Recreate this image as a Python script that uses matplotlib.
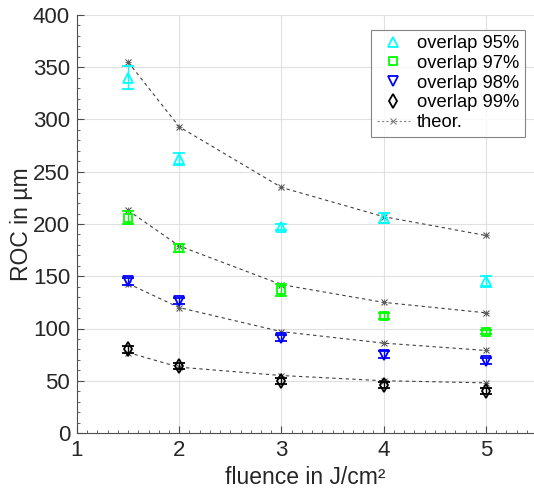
import matplotlib
matplotlib.use("Agg")
import matplotlib.pyplot as plt
from matplotlib.ticker import MultipleLocator
from matplotlib.lines import Line2D

plt.rcParams['font.family'] = ['Liberation Sans', 'DejaVu Sans']

fluence = [1.5, 2, 3, 4, 5]

roc95 = [340, 262, 197, 206, 145]
err95 = [11, 6, 3, 5, 5]
roc97 = [206, 177, 137, 112, 97]
err97 = [6, 4, 6, 3, 2]
roc98 = [145, 126, 91, 75, 69]
err98 = [3, 3, 3, 3, 3]
roc99 = [80, 64, 50, 46, 40]
err99 = [3, 3, 3, 3, 3]

theor95 = [355, 293, 235, 207, 189]
theor97 = [213, 179, 142, 125, 115]
theor98 = [143, 120, 97, 86, 79]
theor99 = [77, 63, 55, 50, 48]

fig = plt.figure(figsize=(5.34, 4.93), dpi=100)
ax = fig.add_axes([77/534, 60/493, 1 - 77/534, (433-15)/493])

series = [
    (roc95, err95, '^', (0, 1, 1), 'overlap 95%'),
    (roc97, err97, 's', (0, 1, 0), 'overlap 97%'),
    (roc98, err98, 'v', (0, 0, 1), 'overlap 98%'),
    (roc99, err99, 'd', (0, 0, 0), 'overlap 99%'),
]
handles = []
for vals, errs, m, c, lab in series:
    ms = 7 if m != 's' else 5.5
    ax.errorbar(fluence, vals, yerr=errs, fmt=m, mfc='none', mec=c, color=c,
                ms=ms, mew=1.3, elinewidth=1.0, capsize=4,
                capthick=1.0, zorder=3)
    handles.append(Line2D([], [], linestyle='none', marker=m, mfc='none',
                          mec=c, ms=ms, mew=1.3, label=lab))

for t in [theor95, theor97, theor98, theor99]:
    ax.plot(fluence, t, linestyle=(0, (3, 3)), color='0.25', lw=0.8,
            marker='x', ms=5, mec='0.35', mew=0.8, zorder=2)
    ax.plot(fluence, t, linestyle='none', marker='+', ms=5, mec='0.35', mew=0.6, zorder=2)
handles.append(Line2D([], [], linestyle=(0, (2, 2)), color='0.5', lw=0.8,
                      marker='x', ms=5, mec='0.5', mew=0.8, label='theor.'))

ax.set_xlim(1, 5.47)
ax.set_ylim(0, 400)
ax.xaxis.set_major_locator(MultipleLocator(1))
ax.xaxis.set_minor_locator(MultipleLocator(0.1))
ax.yaxis.set_major_locator(MultipleLocator(50))
ax.yaxis.set_minor_locator(MultipleLocator(10))
ax.tick_params(which='both', direction='in', colors='0.3', labelcolor='0.15',
               labelsize=16)
ax.tick_params(which='major', length=5, pad=5)
ax.tick_params(which='minor', length=2.5)
ax.grid(True, which='major', color='0.88', lw=0.8)
ax.set_axisbelow(True)
for s in ['top', 'right']:
    ax.spines[s].set_visible(False)
for s in ['left', 'bottom']:
    ax.spines[s].set_color('0.3')
    ax.spines[s].set_linewidth(0.8)

ax.set_xlabel('fluence in J/cm²', fontsize=16.5, color='0.15', labelpad=4)
ax.set_ylabel('ROC in µm', fontsize=16.5, color='0.15', labelpad=0)

leg = ax.legend(handles=handles, loc='upper right',
                bbox_to_anchor=(0.98, 0.965), fontsize=13.2,
                frameon=True, fancybox=False, edgecolor='0.4', handlelength=1.8,
                handletextpad=0.4, borderpad=0.3, labelspacing=0.15,
                borderaxespad=0)
leg.get_frame().set_linewidth(0.8)

fig.savefig('out.png', dpi=100)
